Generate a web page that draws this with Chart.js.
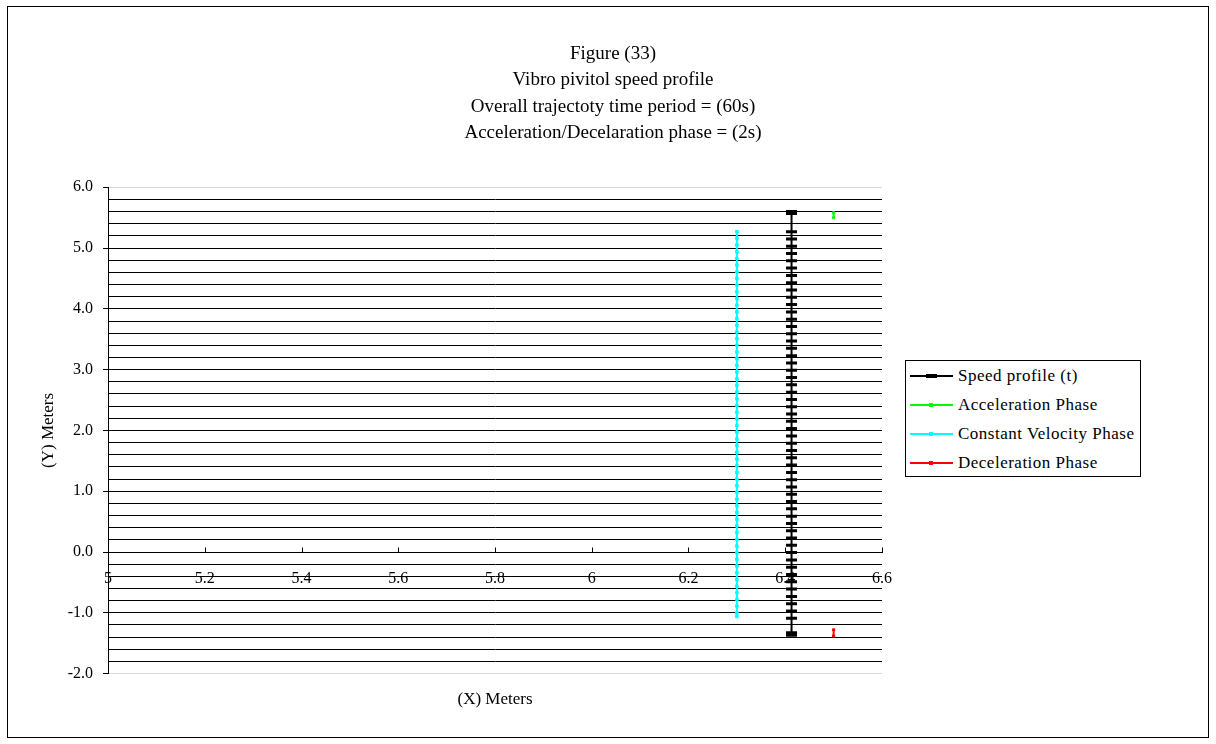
<!DOCTYPE html>
<html lang="en">
<head>
    <meta charset="UTF-8">
    <title>Vibro pivitol speed profile</title>
    <script src="https://cdn.jsdelivr.net/npm/chart.js"></script>
    <style>
        body {
            margin: 0;
            background: #fff;
            font-family: "Liberation Serif", "Times New Roman", serif;
        }

        #wrap {
            position: relative;
            width: 1216px;
            height: 744px;
        }

        #frame {
            position: absolute;
            left: 7px;
            top: 6px;
            width: 1200px;
            height: 730px;
            border: 1px solid #000;
            pointer-events: none;
        }

        #legend {
            position: absolute;
            left: 905px;
            top: 360px;
            width: 234px;
            height: 115px;
            border: 1px solid #000;
            background: #fff;
        }

        .item {
            display: flex;
            align-items: center;
            height: 29px;
            font-size: 17px;
            letter-spacing: 0.5px;
            color: #000;
        }

        .sample {
            position: relative;
            width: 43px;
            margin-left: 4px;
            margin-right: 5px;
        }

        .sample .ln {
            height: 2px;
        }

        .sample .mk {
            position: absolute;
            left: 19px;
            top: -1px;
            width: 4px;
            height: 4px;
        }
    </style>
</head>
<body>
<div id="wrap">
    <canvas id="speedChart" width="1216" height="744"></canvas>
    <div id="frame"></div>
    <div id="legend"></div>
</div>

<script>
    // series values
    const seriesNames = ['Speed profile (t)', 'Acceleration Phase', 'Constant Velocity Phase', 'Deceleration Phase'];
    const seriesColors = ['#000000', '#00ff00', '#00ffff', '#ff0000'];

    const speedX = 6.413;
    const speedY = [5.60, 5.57, 5.27, 5.15, 5.03, 4.91, 4.79, 4.67, 4.55, 4.43, 4.31, 4.19, 4.07, 3.95,
        3.83, 3.71, 3.59, 3.47, 3.35, 3.23, 3.11, 2.99, 2.87, 2.75, 2.63, 2.51, 2.39, 2.27, 2.15,
        2.03, 1.91, 1.79, 1.67, 1.55, 1.43, 1.31, 1.19, 1.07, 0.95, 0.83, 0.71, 0.59, 0.47, 0.35,
        0.23, 0.11, -0.01, -0.13, -0.25, -0.37, -0.49, -0.61, -0.73, -0.85, -0.97, -1.09, -1.33, -1.37];

    const accelX = 6.5;
    const accelY = [5.58, 5.50];

    const constX = 6.3;
    const constY = [5.27, 5.16, 5.05, 4.94, 4.83, 4.72, 4.61, 4.50, 4.39, 4.28, 4.17, 4.06, 3.95, 3.84,
        3.73, 3.62, 3.51, 3.40, 3.29, 3.18, 3.07, 2.96, 2.85, 2.74, 2.63, 2.52, 2.41, 2.30, 2.19,
        2.08, 1.97, 1.86, 1.75, 1.64, 1.53, 1.42, 1.31, 1.20, 1.09, 0.98, 0.87, 0.76, 0.65, 0.54,
        0.43, 0.32, 0.21, 0.10, -0.01, -0.12, -0.23, -0.34, -0.45, -0.56, -0.67, -0.78, -0.89,
        -1.00, -1.06];

    const decelX = 6.5;
    const decelY = [-1.28, -1.38];

    const titleLines = ['Figure (33)', 'Vibro pivitol speed profile',
        'Overall trajectoty time period = (60s)', 'Acceleration/Decelaration phase = (2s)'];

    const serif = '"Liberation Serif", "Times New Roman", serif';

    function pts(x, ys) {
        return ys.map(y => ({ x: x, y: y }));
    }

    // x axis sits at y = 0, its ticks point up into the plot
    const upTicks = {
        id: 'upTicks',
        afterDraw(chart) {
            const xs = chart.scales.x;
            const y0 = Math.round(chart.scales.y.getPixelForValue(0)) + 0.5;
            const ctx = chart.ctx;
            ctx.save();
            ctx.strokeStyle = '#000';
            ctx.lineWidth = 1;
            xs.ticks.forEach(t => {
                const px = Math.round(xs.getPixelForValue(t.value)) + 0.5;
                ctx.beginPath();
                ctx.moveTo(px, y0);
                ctx.lineTo(px, y0 - 5);
                ctx.stroke();
            });
            ctx.restore();
        }
    };

    const isMajor = v => Math.abs(v - Math.round(v)) < 1e-6;

    const ctx = document.getElementById('speedChart').getContext('2d');
    new Chart(ctx, {
        type: 'scatter',
        data: {
            datasets: [
                {
                    label: seriesNames[0],
                    data: pts(speedX, speedY),
                    showLine: true,
                    borderColor: seriesColors[0],
                    backgroundColor: seriesColors[0],
                    borderWidth: 2,
                    pointStyle: 'line',
                    pointRadius: 5.5,
                    pointBorderWidth: 3,
                    order: 4
                },
                {
                    label: seriesNames[1],
                    data: pts(accelX, accelY),
                    showLine: true,
                    borderColor: seriesColors[1],
                    backgroundColor: seriesColors[1],
                    borderWidth: 2,
                    pointStyle: 'rect',
                    pointRadius: 1.5,
                    pointBorderWidth: 1,
                    order: 3
                },
                {
                    label: seriesNames[2],
                    data: pts(constX, constY),
                    showLine: true,
                    borderColor: seriesColors[2],
                    backgroundColor: seriesColors[2],
                    borderWidth: 2,
                    pointStyle: 'rect',
                    pointRadius: 1.8,
                    pointBorderWidth: 1,
                    order: 2
                },
                {
                    label: seriesNames[3],
                    data: pts(decelX, decelY),
                    showLine: true,
                    borderColor: seriesColors[3],
                    backgroundColor: seriesColors[3],
                    borderWidth: 2,
                    pointStyle: 'rect',
                    pointRadius: 1.5,
                    pointBorderWidth: 1,
                    order: 1
                }
            ]
        },
        options: {
            responsive: false,
            animation: false,
            layout: { padding: { left: 10, right: 0, top: 0, bottom: 0 } },
            plugins: {
                legend: { display: false },
                tooltip: { enabled: false },
                title: {
                    display: true,
                    text: titleLines,
                    color: '#000',
                    font: { family: serif, size: 19, weight: 'normal', lineHeight: 1.385 },
                    padding: { top: 41, bottom: 41 }
                },
                subtitle: {
                    display: true,
                    position: 'bottom',
                    fullSize: false,
                    text: '(X) Meters',
                    color: '#000',
                    font: { family: serif, size: 17, weight: 'normal', lineHeight: 1.2 },
                    padding: { top: 16, bottom: 34 }
                }
            },
            scales: {
                x: {
                    type: 'linear',
                    position: { y: 0 },
                    min: 5,
                    max: 6.6,
                    ticks: {
                        stepSize: 0.2,
                        padding: 17,
                        color: '#000',
                        font: { family: serif, size: 16 },
                        maxRotation: 0,
                        autoSkip: false,
                        callback: v => String(Number(v.toFixed(1)))
                    },
                    grid: { drawOnChartArea: false, drawTicks: false },
                    border: { color: '#000', width: 1 }
                },
                y: {
                    type: 'linear',
                    position: 'left',
                    min: -2,
                    max: 6,
                    afterFit: s => { s.width = 98; },
                    ticks: {
                        stepSize: 0.2,
                        maxTicksLimit: 60,
                        autoSkip: false,
                        padding: 10,
                        color: '#000',
                        font: { family: serif, size: 16 },
                        callback: v => isMajor(v) ? v.toFixed(1) : ''
                    },
                    grid: {
                        color: c => (Math.abs(c.tick.value - 6) < 1e-6 || Math.abs(c.tick.value + 2) < 1e-6) ? '#d9d9d9' : '#000',
                        tickColor: c => isMajor(c.tick.value) ? '#000' : 'rgba(0,0,0,0)',
                        tickLength: 5,
                        lineWidth: 1
                    },
                    border: { color: '#000', width: 1 },
                    title: {
                        display: true,
                        text: '(Y) Meters',
                        color: '#000',
                        font: { family: serif, size: 17, lineHeight: 1.2 },
                        padding: { top: 28, bottom: 12 }
                    }
                },
                // empty space on the right, where the legend box sits
                pad: {
                    type: 'linear',
                    position: 'right',
                    axis: 'y',
                    min: 0,
                    max: 1,
                    afterFit: s => { s.width = 334; },
                    ticks: { display: false },
                    grid: { display: false },
                    border: { display: false }
                }
            }
        },
        plugins: [upTicks]
    });

    // legend box built from the same names and colours
    const legend = document.getElementById('legend');
    seriesNames.forEach((name, i) => {
        const row = document.createElement('div');
        row.className = 'item';
        const sample = document.createElement('div');
        sample.className = 'sample';
        const ln = document.createElement('div');
        ln.className = 'ln';
        ln.style.background = seriesColors[i];
        const mk = document.createElement('div');
        mk.className = 'mk';
        mk.style.background = seriesColors[i];
        if (i === 0) {
            mk.style.width = '11px';
            mk.style.left = '16px';
            mk.style.height = '4px';
        }
        sample.appendChild(ln);
        sample.appendChild(mk);
        const label = document.createElement('span');
        label.textContent = name;
        row.appendChild(sample);
        row.appendChild(label);
        legend.appendChild(row);
    });
</script>
</body>
</html>
